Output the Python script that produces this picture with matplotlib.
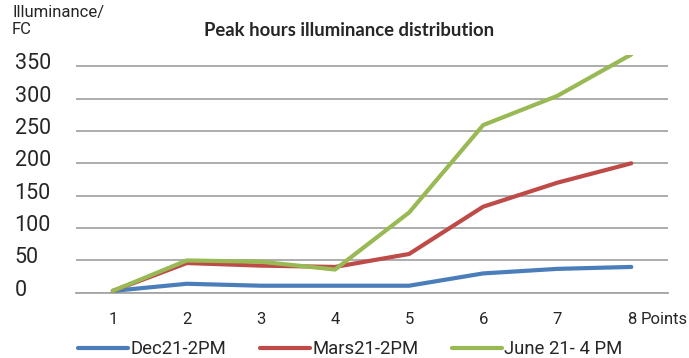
import matplotlib
matplotlib.use("Agg")
import matplotlib.pyplot as plt
import matplotlib.transforms as mtransforms

# measurement points and illuminance (foot-candles) per date/time
points = [1, 2, 3, 4, 5, 6, 7, 8]
dec21_2pm = [3, 14, 11, 11, 11, 30, 37, 40]
mars21_2pm = [3, 46, 42, 40, 60, 133, 170, 200]
june21_4pm = [3, 50, 48, 36, 124, 259, 304, 368]
series_labels = ["Dec21-2PM", "Mars21-2PM", "June 21- 4 PM"]
yticks = [0, 50, 100, 150, 200, 250, 300, 350]

BLUE, RED, GREEN = "#4a7ebb", "#be4b48", "#98b954"
GRID = "#a6a6a6"
INK = "#262626"

plt.rcParams["font.family"] = ["Roboto", "DejaVu Sans"]

fig = plt.figure(figsize=(6.89, 3.58), dpi=100)
ax = fig.add_axes([0.110, 0.182, 0.860, 0.664])

lines = []
for vals, color, label in zip((dec21_2pm, mars21_2pm, june21_4pm),
                              (BLUE, RED, GREEN), series_labels):
    ln, = ax.plot(points, vals, color=color, lw=3, label=label,
                  solid_capstyle="round", solid_joinstyle="round", zorder=3)
    lines.append(ln)

ax.set_xlim(0.5, 8.5)
ax.set_ylim(0, 367)
ax.set_yticks(yticks)
ax.set_xticks(points)
ax.set_xticklabels([str(p) for p in points])
ax.grid(axis="y", color=GRID, lw=1.3)
ax.set_axisbelow(True)
for s in ("top", "right", "left"):
    ax.spines[s].set_visible(False)
ax.spines["bottom"].set_color(GRID)
ax.spines["bottom"].set_linewidth(1.3)
ax.tick_params(axis="both", length=0, colors=INK)
ax.tick_params(axis="y", labelsize=15.5, pad=44)
ax.tick_params(axis="x", labelsize=12, pad=14)
shift = mtransforms.ScaledTranslation(0, 5 / 100, fig.dpi_scale_trans)
for lab in ax.get_yticklabels():
    lab.set_horizontalalignment("left")
    lab.set_transform(lab.get_transform() + shift)

fig.text(641 / 689, 1 - 319 / 358, "Points", fontsize=12, color=INK,
         va="center", ha="left")
fig.text(12 / 689, 1 - 5 / 358, "Illuminance/\nFC", fontsize=12, color=INK,
         va="top", ha="left", linespacing=1.15)
fig.text(349 / 689, 1 - 31 / 358, "Peak hours illuminance distribution",
         fontsize=13.3, fontweight="bold", color=INK, ha="center", va="center",
         family=["Lato", "DejaVu Sans"])

fig.legend(handles=lines, loc="center left", bbox_to_anchor=(78 / 689, 1 - 349 / 358),
           ncol=3, frameon=False, fontsize=13.3, handlelength=2.7,
           handletextpad=0.15, columnspacing=1.8, borderaxespad=0,
           borderpad=0, labelcolor=INK)

fig.savefig("out.png", dpi=100)
